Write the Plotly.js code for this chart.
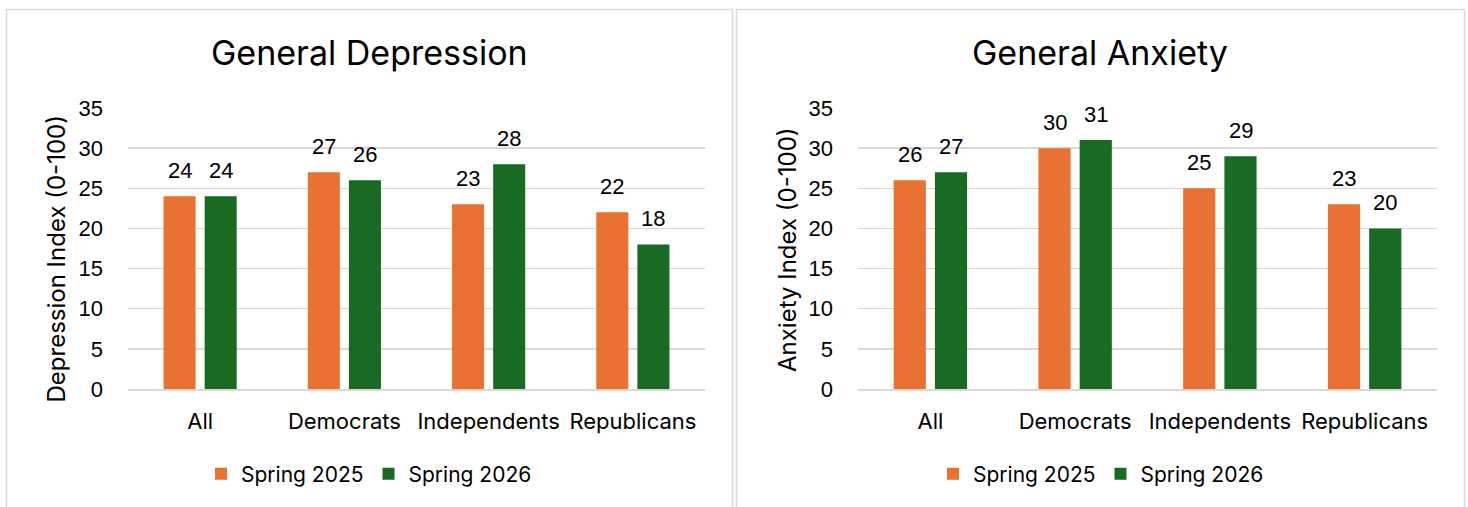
<!DOCTYPE html>
<html>
<head>
<meta charset="utf-8">
<script src="https://cdn.plot.ly/plotly-3.0.1.min.js"></script>
<style>
  html, body { margin: 0; padding: 0; background: #ffffff; }
  #chart { width: 1468px; height: 507px; }
</style>
</head>
<body>
<div id="chart"></div>
<script>
// Survey groups and index scores (0-100 scale)
const groups = ["All", "Democrats", "Independents", "Republicans"];
const depression2025 = [24, 27, 23, 22];
const depression2026 = [24, 26, 28, 18];
const anxiety2025 = [26, 30, 25, 23];
const anxiety2026 = [27, 31, 29, 20];
const seriesNames = ["Spring 2025", "Spring 2026"];
const yTicks = [0, 5, 10, 15, 20, 25, 30, 35];

const ORANGE = "#E97132";
const GREEN = "#196B24";
const GRID = "#d9d9d9";
const FONT = "Inter, 'Open Sans', 'Liberation Sans', sans-serif";
const NUMFONT = "'Liberation Sans', Arial, sans-serif";

const W = 1468, H = 507;
const px = v => v / W;
const py = v => 1 - v / H;

const BARGAP = 0.43;
const BARGROUPGAP = 0.22;
// centre offset of each bar within its category (category units)
const barOffset = (1 - BARGAP) / 4;

function barTrace(name, values, color, xa, ya, legend) {
  return {
    type: "bar", name: name, x: groups, y: values,
    xaxis: xa, yaxis: ya, legend: legend, showlegend: true,
    marker: { color: color, line: { width: 0 } }
  };
}

const data = [
  barTrace(seriesNames[0], depression2025, ORANGE, "x", "y", "legend"),
  barTrace(seriesNames[1], depression2026, GREEN, "x", "y", "legend"),
  barTrace(seriesNames[0], anxiety2025, ORANGE, "x2", "y2", "legend2"),
  barTrace(seriesNames[1], anxiety2026, GREEN, "x2", "y2", "legend2")
];

// Value labels above each bar
function valueLabels(values, side, xref, yref) {
  return values.map((v, i) => ({
    x: i + side * barOffset, y: v, xref: xref, yref: yref,
    text: String(v), showarrow: false, yanchor: "bottom", yshift: 11,
    font: { family: NUMFONT, size: 22, color: "#000000" }
  }));
}

function chartTitle(text, xc) {
  return {
    text: text, x: px(xc), y: py(53), xref: "paper", yref: "paper",
    showarrow: false, xanchor: "center", yanchor: "middle",
    font: { family: FONT, size: 34, color: "#000000" }
  };
}

// Rotated value-axis titles
function axisTitle(text, xc, yc) {
  return {
    text: text, x: px(xc), y: py(yc), xref: "paper", yref: "paper",
    showarrow: false, xanchor: "center", yanchor: "middle", textangle: -90,
    font: { family: FONT, size: 24, color: "#000000" }
  };
}

const annotations = [].concat(
  valueLabels(depression2025, -1, "x", "y"),
  valueLabels(depression2026, 1, "x", "y"),
  valueLabels(anxiety2025, -1, "x2", "y2"),
  valueLabels(anxiety2026, 1, "x2", "y2"),
  [
    chartTitle("General Depression", 369),
    chartTitle("General Anxiety", 1100),
    axisTitle("Depression Index (0-100)", 55.5, 259),
    axisTitle("Anxiety Index (0-100)", 787, 250)
  ]
);

function xAxis(domain) {
  return {
    domain: domain, type: "category", showgrid: false, zeroline: false,
    showline: true, linecolor: GRID, linewidth: 2, ticks: "",
    tickfont: { family: FONT, size: 22, color: "#000000" },
    ticklabelstandoff: 12, fixedrange: true
  };
}
function yAxis(anchor) {
  return {
    domain: [py(389), py(108)], range: [0, 35], tickvals: yTicks,
    showgrid: true, gridcolor: GRID, gridwidth: 1.5, zeroline: false,
    showline: false, ticks: "", anchor: anchor,
    tickfont: { family: NUMFONT, size: 22, color: "#000000" },
    ticklabelstandoff: 24,
    fixedrange: true
  };
}

function legendBox(xc) {
  return {
    orientation: "h", x: px(xc), y: py(474), xanchor: "center", yanchor: "middle",
    font: { family: FONT, size: 21, color: "#000000" }, itemwidth: 30,
    bgcolor: "rgba(0,0,0,0)"
  };
}

const layout = {
  width: W, height: H,
  margin: { l: 0, r: 0, t: 0, b: 0 },
  paper_bgcolor: "#ffffff", plot_bgcolor: "#ffffff",
  barmode: "group", bargap: BARGAP, bargroupgap: BARGROUPGAP,
  xaxis: xAxis([px(128), px(705)]),
  yaxis: yAxis("x"),
  xaxis2: xAxis([px(858), px(1437)]),
  yaxis2: yAxis("x2"),
  legend: legendBox(369),
  legend2: legendBox(1101),
  annotations: annotations,
  shapes: [
    { type: "rect", xref: "paper", yref: "paper", x0: px(6.5), x1: px(732.5), y0: py(520), y1: py(9.5),
      line: { color: GRID, width: 1.5 }, fillcolor: "rgba(0,0,0,0)" },
    { type: "rect", xref: "paper", yref: "paper", x0: px(736.5), x1: px(1464.5), y0: py(520), y1: py(9.5),
      line: { color: GRID, width: 1.5 }, fillcolor: "rgba(0,0,0,0)" }
  ],
  hovermode: false
};

Plotly.newPlot("chart", data, layout, { displayModeBar: false, staticPlot: true });
</script>
</body>
</html>
